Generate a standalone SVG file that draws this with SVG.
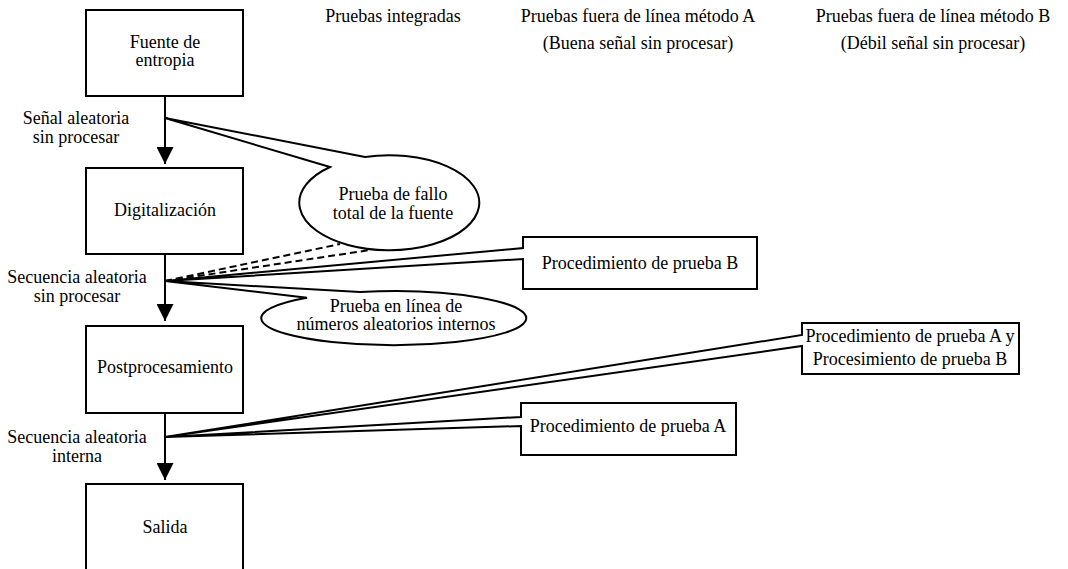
<svg xmlns="http://www.w3.org/2000/svg" width="1068" height="569" viewBox="0 0 1068 569">
<style>
text{font-family:"Liberation Serif","Times New Roman",serif;font-size:18px;fill:#000;text-anchor:middle}
.box{fill:#fff;stroke:#000;stroke-width:2}
.call{fill:#fff;stroke:#000;stroke-width:2;stroke-linejoin:miter}
.flow{stroke:#000;stroke-width:2;fill:none}
.dash{stroke:#000;stroke-width:2;fill:none;stroke-dasharray:7,4}
</style>
<defs>
<marker id="arr" markerWidth="19" markerHeight="17" refX="19" refY="9.5" orient="auto" markerUnits="userSpaceOnUse" viewBox="0 0 19 19">
<path d="M0,0 L19,9.5 L0,19 Z" fill="#000"/>
</marker>
</defs>
<g id="headers">
<text x="393" y="22">Pruebas integradas</text>
<text x="638" y="22">Pruebas fuera de línea método A</text>
<text x="638" y="49">(Buena señal sin procesar)</text>
<text x="933" y="22">Pruebas fuera de línea método B</text>
<text x="933" y="49">(Débil señal sin procesar)</text>
</g>
<g id="connectors">
<line class="flow" x1="165" y1="96" x2="165" y2="164" marker-end="url(#arr)"/>
<line class="flow" x1="165" y1="254" x2="165" y2="321" marker-end="url(#arr)"/>
<line class="flow" x1="165" y1="413" x2="165" y2="480" marker-end="url(#arr)"/>
<text x="76" y="124">Señal aleatoria</text>
<text x="76" y="143">sin procesar</text>
<text x="77" y="283">Secuencia aleatoria</text>
<text x="77" y="302">sin procesar</text>
<text x="77" y="443">Secuencia aleatoria</text>
<text x="77" y="462">interna</text>
<path class="dash" d="M165,281 L340,244"/>
<path class="dash" d="M165,281 L370,250"/>
</g>
<g id="fuente">
<rect class="box" x="86" y="10" width="157" height="86"/>
<text x="165" y="48">Fuente de</text>
<text x="165" y="66">entropia</text>
</g>
<g id="digitalizacion">
<rect class="box" x="86" y="168" width="157" height="86"/>
<text x="165" y="216">Digitalización</text>
</g>
<g id="postprocesamiento">
<rect class="box" x="86" y="326" width="157" height="87"/>
<text x="165" y="373">Postprocesamiento</text>
</g>
<g id="salida">
<rect class="box" x="86" y="484" width="157" height="90"/>
<text x="165" y="533">Salida</text>
</g>
<g id="fallo-total">
<path class="call" d="M365,157 L165,118 L330,167 A90,47.5 0 1 0 365,157 Z" stroke-linejoin="miter"/>
<text x="393" y="200">Prueba de fallo</text>
<text x="393" y="219">total de la fuente</text>
</g>
<g id="prueba-en-linea">
<path class="call" d="M360,292 L165,281 L307,297.7 A132.5,27 0 1 0 360,292 Z"/>
<text x="396" y="312">Prueba en línea de</text>
<text x="396" y="330">números aleatorios internos</text>
</g>
<g id="procedimiento-b">
<path class="call" d="M523,248 L523,237 L757,237 L757,289 L523,289 L523,259 L165,281 Z"/>
<text x="640" y="269">Procedimiento de prueba B</text>
</g>
<g id="procedimiento-ab">
<path class="call" d="M802,335 L802,323 L1019,323 L1019,374 L802,374 L802,346 L165,437 Z"/>
<text x="910" y="342">Procedimiento de prueba A y</text>
<text x="910" y="365">Procesimiento de prueba B</text>
</g>
<g id="procedimiento-a">
<path class="call" d="M521,417 L521,403 L736,403 L736,455 L521,455 L521,426 L165,437 Z"/>
<text x="628" y="432">Procedimiento de prueba A</text>
</g>
</svg>
